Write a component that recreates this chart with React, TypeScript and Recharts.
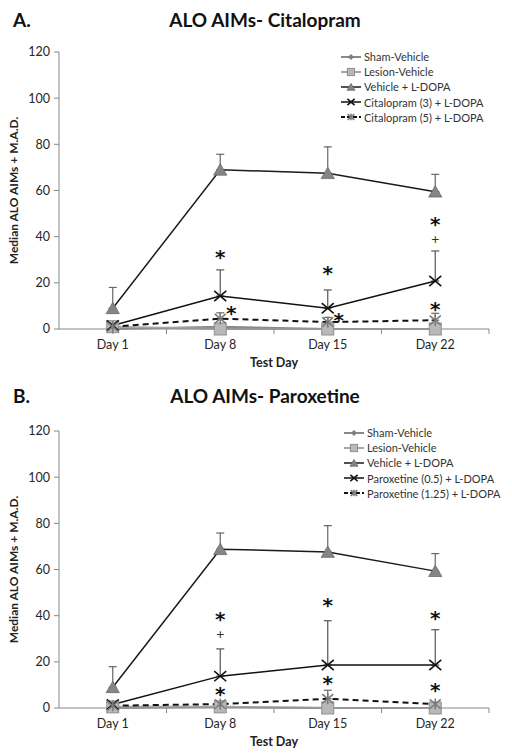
import React from "react";
import { LineChart, Line, XAxis, YAxis, ErrorBar, ReferenceDot } from "recharts";

const days = ["Day 1", "Day 8", "Day 15", "Day 22"];
const yTicks = [0, 20, 40, 60, 80, 100, 120];

// Panel A - citalopram (median, M.A.D. above median)
const shamA = [0, 1, 0, 0];
const lesionA = [1, 0, 0, 0];
const vehA = [9, 69, 67.5, 59.5];
const vehErrA = [9, 6.7, 11.4, 7.5];
const cit3 = [1.5, 14.3, 9, 20.8];
const cit3Err = [0, 11.3, 7.9, 13];
const cit5 = [1, 4.5, 3, 3.8];
const cit5Err = [0, 2.5, 2, 3];

// Panel B - paroxetine
const shamB = [0, 0.5, 0, 0];
const lesionB = [0.5, 0.5, 0, 0];
const vehB = [9, 68.8, 67.6, 59.3];
const vehErrB = [8.9, 7, 11.4, 7.6];
const par05 = [1.5, 13.8, 18.6, 18.6];
const par05Err = [0, 11.8, 19.2, 15.3];
const par125 = [1, 1.7, 4, 1.7];
const par125Err = [0, 0, 3.7, 0];

const namesA = ["Sham-Vehicle", "Lesion-Vehicle", "Vehicle + L-DOPA", "Citalopram (3) + L-DOPA", "Citalopram (5) + L-DOPA"];
const namesB = ["Sham-Vehicle", "Lesion-Vehicle", "Vehicle + L-DOPA", "Paroxetine (0.5) + L-DOPA", "Paroxetine (1.25) + L-DOPA"];

// significance marks: day, height, symbol, beside point?
const marksA = [
  { day: "Day 8", v: 33, sym: "*" },
  { day: "Day 8", v: 9, sym: "*", beside: true },
  { day: "Day 15", v: 26, sym: "*" },
  { day: "Day 15", v: 6, sym: "*", beside: true },
  { day: "Day 22", v: 47.5, sym: "*" },
  { day: "Day 22", v: 38.9, sym: "+" },
  { day: "Day 22", v: 10.4, sym: "*" },
];
const marksB = [
  { day: "Day 8", v: 40.4, sym: "*" },
  { day: "Day 8", v: 32, sym: "+" },
  { day: "Day 8", v: 8, sym: "*" },
  { day: "Day 15", v: 46.6, sym: "*" },
  { day: "Day 15", v: 12.8, sym: "*" },
  { day: "Day 22", v: 41.1, sym: "*" },
  { day: "Day 22", v: 9.6, sym: "*" },
];

function buildRows(sham, lesion, veh, vehErr, d1, d1Err, d2, d2Err) {
  return days.map((day, i) => ({
    day,
    sham: sham[i],
    lesion: lesion[i],
    veh: veh[i],
    vehErr: [0, vehErr[i]],
    d1: d1[i],
    d1Err: [0, d1Err[i]],
    d2: d2[i],
    d2Err: [0, d2Err[i]],
  }));
}

const rowsA = buildRows(shamA, lesionA, vehA, vehErrA, cit3, cit3Err, cit5, cit5Err);
const rowsB = buildRows(shamB, lesionB, vehB, vehErrB, par05, par05Err, par125, par125Err);

const FONT = "Lato, 'Open Sans', sans-serif";
const AXIS = "#888";
const W = 512;
const H = 370;
const MARGIN = { top: 52, right: 23, bottom: 0, left: 0 };
const Y_W = 59;
const BAND_HALF = (W - MARGIN.right - MARGIN.left - Y_W) / days.length / 2;

// marker glyphs
function Diamond({ cx, cy, s }) {
  return <path d={`M${cx},${cy - s}L${cx + s},${cy}L${cx},${cy + s}L${cx - s},${cy}Z`} fill="#7f7f7f" />;
}
function Square({ cx, cy, s }) {
  return <rect x={cx - s} y={cy - s} width={2 * s} height={2 * s} fill="#b8b8b8" stroke="#8f8f8f" strokeWidth={1} />;
}
function Triangle({ cx, cy, s }) {
  return (
    <path
      d={`M${cx},${cy - s}L${cx + s * 1.1},${cy + s * 0.9}L${cx - s * 1.1},${cy + s * 0.9}Z`}
      fill="#858585"
      stroke="#6a6a6a"
      strokeWidth={0.8}
    />
  );
}
function Cross({ cx, cy, s }) {
  return (
    <g stroke="#111" strokeWidth={1.6}>
      <line x1={cx - s} y1={cy - s * 0.85} x2={cx + s} y2={cy + s * 0.85} />
      <line x1={cx - s} y1={cy + s * 0.85} x2={cx + s} y2={cy - s * 0.85} />
    </g>
  );
}
function Star({ cx, cy, s }) {
  return (
    <g stroke="#7a7a7a" strokeWidth={1.6}>
      <line x1={cx - s} y1={cy - s * 0.85} x2={cx + s} y2={cy + s * 0.85} />
      <line x1={cx - s} y1={cy + s * 0.85} x2={cx + s} y2={cy - s * 0.85} />
      <line x1={cx} y1={cy - s} x2={cx} y2={cy + s} />
    </g>
  );
}

const series = [
  { key: "sham", Mark: Diamond, s: 5, stroke: "#8a8a8a", width: 2, dash: undefined },
  { key: "lesion", Mark: Square, s: 6, stroke: "#a6a6a6", width: 2, dash: undefined },
  { key: "veh", Mark: Triangle, s: 6, stroke: "#1a1a1a", width: 1.5, dash: undefined, err: "vehErr", errColor: "#666" },
  { key: "d1", Mark: Cross, s: 6, stroke: "#111", width: 1.5, dash: undefined, err: "d1Err", errColor: "#555" },
  { key: "d2", Mark: Star, s: 5.5, stroke: "#111", width: 2, dash: "6 4", err: "d2Err", errColor: "#666" },
];

// tick label at the band centre, small tick mark at the band's right edge
function DayTick(props) {
  const { x, y, payload } = props;
  const half = payload && payload.offset ? payload.offset : BAND_HALF;
  return (
    <g>
      <text x={x} y={y + 20} textAnchor="middle" fill="#262626" fontSize={12.5} fontFamily={FONT}>
        {payload.value}
      </text>
      <line x1={x + half} x2={x + half} y1={y} y2={y + 5} stroke={AXIS} strokeWidth={1} />
    </g>
  );
}

function MarkText({ cx, cy, sym, beside }) {
  const dx = beside ? 11 : 0;
  if (sym === "+") {
    return (
      <text x={cx + dx} y={cy + 4.5} textAnchor="middle" fontSize={14} fill="#333" fontFamily={FONT}>
        +
      </text>
    );
  }
  return (
    <text x={cx + dx} y={cy + 11.5} textAnchor="middle" fontSize={20} fontWeight="bold" fill="#111" fontFamily="'DejaVu Sans', sans-serif">
      *
    </text>
  );
}

function LegendBox({ names, top, left }) {
  return (
    <div style={{ position: "absolute", top, left, fontFamily: FONT, fontSize: 11, color: "#333" }}>
      {series.map((sr, i) => (
        <div key={sr.key} style={{ display: "flex", alignItems: "center", height: 15.2 }}>
          <svg width={22} height={12} style={{ marginRight: 2 }}>
            <line x1={1} x2={21} y1={6} y2={6} stroke={sr.stroke} strokeWidth={sr.width} strokeDasharray={sr.dash ? "4 2" : undefined} />
            <sr.Mark cx={11} cy={6} s={sr.s * 0.6} />
          </svg>
          <span style={{ whiteSpace: "nowrap" }}>{names[i]}</span>
        </div>
      ))}
    </div>
  );
}

function Panel({ top, rows, names, marks, legendTop, legendLeft }) {
  return (
    <div style={{ position: "absolute", left: 0, top, width: W, height: H }}>
      <LineChart width={W} height={H} data={rows} margin={MARGIN}>
        <XAxis
          dataKey="day"
          scale="band"
          height={41}
          stroke={AXIS}
          tickLine={false}
          tickSize={0}
          tickMargin={0}
          tick={DayTick}
          interval={0}
          label={{ value: "Test Day", position: "insideBottom", offset: 3, style: { fontFamily: FONT, fontSize: 12.5, fontWeight: "bold", fill: "#222" } }}
        />
        <YAxis
          domain={[0, 120]}
          ticks={yTicks}
          width={Y_W}
          stroke={AXIS}
          tickSize={5}
          tickMargin={4}
          tick={{ fill: "#262626", fontSize: 12.5, fontFamily: FONT }}
          label={{
            value: "Median ALO AIMs + M.A.D.",
            angle: -90,
            position: "insideLeft",
            offset: 14,
            style: { textAnchor: "middle", fontFamily: FONT, fontSize: 12, fontWeight: "bold", fill: "#222" },
          }}
        />
        {series.map((sr) => (
          <Line
            key={sr.key}
            dataKey={sr.key}
            stroke={sr.stroke}
            strokeWidth={sr.width}
            strokeDasharray={sr.dash}
            isAnimationActive={false}
            activeDot={false}
            dot={(p) => <sr.Mark key={`${sr.key}-${p.index}`} cx={p.cx} cy={p.cy} s={sr.s} />}
          >
            {sr.err ? <ErrorBar dataKey={sr.err} direction="y" width={4} stroke={sr.errColor} strokeWidth={1.2} /> : null}
          </Line>
        ))}
        {marks.map((m, i) => (
          <ReferenceDot
            key={i}
            x={m.day}
            y={m.v}
            r={0}
            shape={(p) => <MarkText cx={p.cx} cy={p.cy} sym={m.sym} beside={m.beside} />}
          />
        ))}
      </LineChart>
      <LegendBox names={names} top={legendTop} left={legendLeft} />
    </div>
  );
}

const letterStyle = { position: "absolute", fontFamily: FONT, fontWeight: "bold", fontSize: 19, lineHeight: "19px", color: "#111" };
const titleStyle = { ...letterStyle, left: 0, width: 530, textAlign: "center" };

export default function App() {
  return (
    <div style={{ position: "absolute", left: 0, top: 0, width: 512, height: 756, background: "#fff" }}>
      <Panel top={0} rows={rowsA} names={namesA} marks={marksA} legendTop={49} legendLeft={340} />
      <Panel top={379} rows={rowsB} names={namesB} marks={marksB} legendTop={46} legendLeft={343} />
      <div style={{ ...letterStyle, left: 13, top: 10 }}>A.</div>
      <div style={{ ...titleStyle, top: 10 }}>ALO AIMs- Citalopram</div>
      <div style={{ ...letterStyle, left: 13, top: 386 }}>B.</div>
      <div style={{ ...titleStyle, top: 386 }}>ALO AIMs- Paroxetine</div>
    </div>
  );
}
